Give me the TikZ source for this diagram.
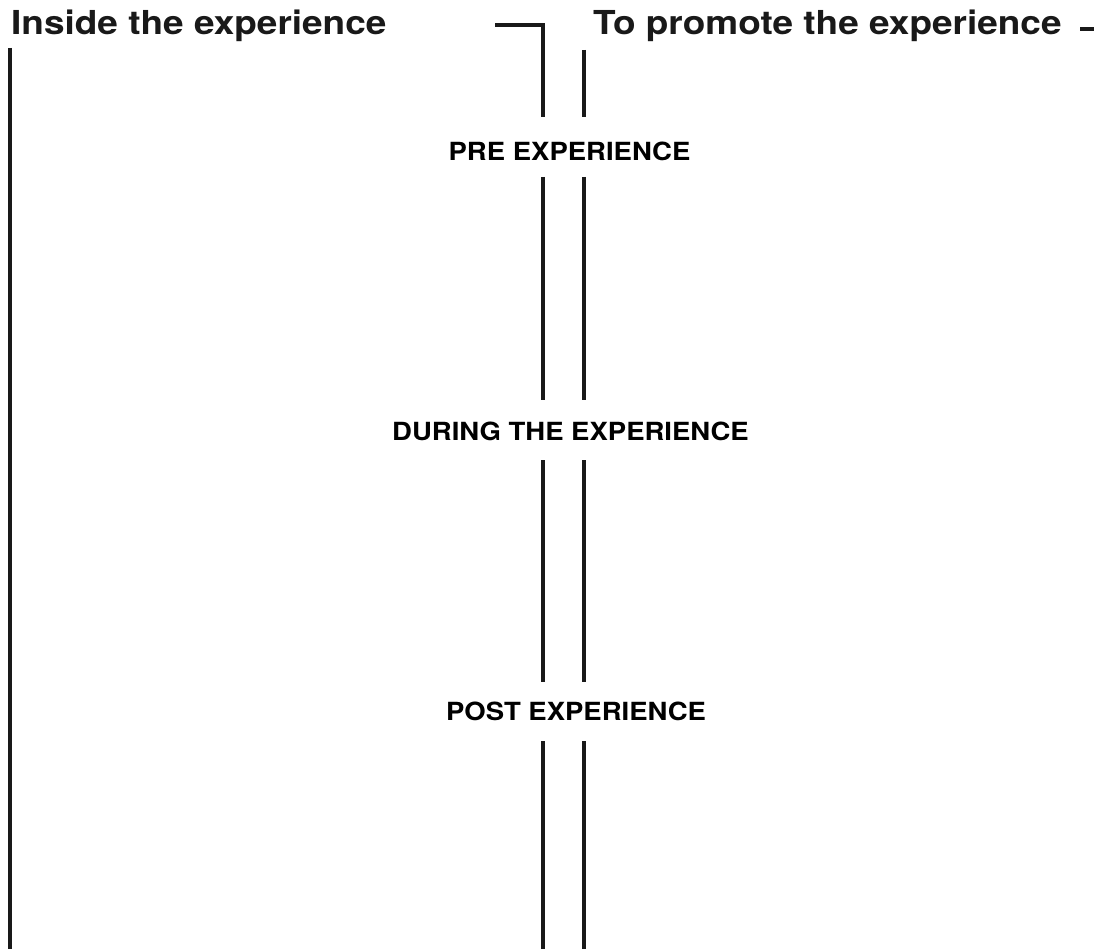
\documentclass[tikz,border=0pt]{standalone}
\usepackage{fontspec}
\setmainfont{TeX Gyre Heros}
\begin{document}
\begin{tikzpicture}[x=1pt,y=-1pt,
  rule/.style={line width=3.5pt,color=black!90},
  head/.style={inner sep=0pt,anchor=base west,font=\fontsize{33}{38}\selectfont\bfseries,text=black!90},
  stage/.style={inner sep=0pt,anchor=base,font=\fontsize{25}{29}\selectfont\bfseries,text=black}]
\useasboundingbox (0,0) rectangle (1106,949);
\node[head] (inside) at (11,35) {\scalebox{1.12}[1]{Inside the experience}};
\node[head] (promote) at (593,35) {\scalebox{1.12}[1]{To promote the experience}};
\node[stage] (pre) at (569.5,161) {\scalebox{1.1}[1]{PRE EXPERIENCE}};
\node[stage] (during) at (570.5,440.5) {\scalebox{1.1}[1]{DURING THE EXPERIENCE}};
\node[stage] (post) at (576,720) {\scalebox{1.1}[1]{POST EXPERIENCE}};
% left long line
\draw[rule] (10,48) -- (10,949);
% bracket and parallel lines
\draw[rule] (495,25) -- (543,25) -- (543,117);
\draw[rule] (584,50) -- (584,117);
\draw[rule] (543,177) -- (543,400);
\draw[rule] (584,177) -- (584,400);
\draw[rule] (543,460) -- (543,682);
\draw[rule] (584,460) -- (584,682);
\draw[rule] (543,741) -- (543,949);
\draw[rule] (584,741) -- (584,949);
% right dash
\draw[rule] (1080,29) -- (1094,29);
\end{tikzpicture}
\end{document}
